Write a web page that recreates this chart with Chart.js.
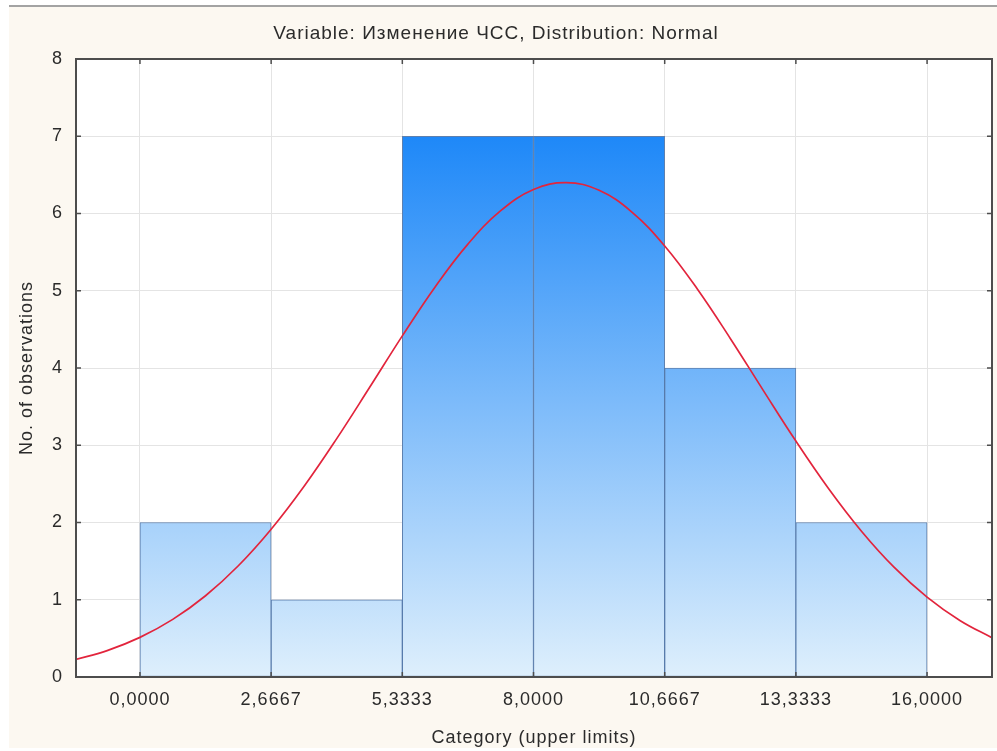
<!DOCTYPE html>
<html><head><meta charset="utf-8">
<script src="https://cdn.jsdelivr.net/npm/chart.js@4.4.1/dist/chart.umd.min.js"></script>
<style>html,body{margin:0;padding:0;background:#fff;}#wrap{width:997px;height:751px;position:relative}</style>
</head><body><div id="wrap"><canvas id="c" width="997" height="751"></canvas></div>
<script>
const titleText = 'Variable: Изменение ЧСС, Distribution: Normal';
const xAxisTitle = 'Category (upper limits)';
const yAxisTitle = 'No. of observations';
const binLower = [0, 2.6667, 5.3333, 8.0, 10.6667, 13.3333];
const binUpper = [2.6667, 5.3333, 8.0, 10.6667, 13.3333, 16.0];
const counts = [2, 1, 7, 7, 4, 2];
const xTickValues = [0, 2.6667, 5.3333, 8.0, 10.6667, 13.3333, 16.0];
const xTickLabels = ['0,0000', '2,6667', '5,3333', '8,0000', '10,6667', '13,3333', '16,0000'];
const yTickValues = [0, 1, 2, 3, 4, 5, 6, 7, 8];
const curveX = [-1.3333, -0.6667, 0, 0.6667, 1.3333, 2.0, 2.6667, 3.3333, 4.0, 4.6667, 5.3333, 6.0, 6.6667, 7.3333, 8.0, 8.6667, 9.3333, 10.0, 10.6667, 11.3333, 12.0, 12.6667, 13.3333, 14.0, 14.6667, 15.3333, 16.0, 16.6667, 17.3333];
const curveY = [0.222, 0.342, 0.513, 0.746, 1.052, 1.440, 1.913, 2.466, 3.086, 3.747, 4.416, 5.050, 5.604, 6.036, 6.310, 6.400, 6.300, 6.019, 5.580, 5.020, 4.383, 3.714, 3.054, 2.437, 1.887, 1.418, 1.034, 0.732, 0.503];
const xMin = -1.3, xMax = 17.32, yMin = 0, yMax = 8;

const FONT = '"Liberation Sans", Arial, sans-serif';
const TXT = '#2b2b2b';
const LS = '1px';

const spacing = {
  id: 'spacing',
  beforeUpdate(c) { c.ctx.letterSpacing = LS; },
  beforeLayout(c) { c.ctx.letterSpacing = LS; },
  beforeDraw(c) { c.ctx.letterSpacing = LS; }
};

const background = {
  id: 'background',
  beforeDraw(c) {
    const ctx = c.ctx, a = c.chartArea;
    ctx.save();
    ctx.fillStyle = '#ffffff';
    ctx.fillRect(0, 0, c.width, c.height);
    ctx.fillStyle = '#fcf8f1';
    ctx.fillRect(9, 7, c.width - 9, 741);
    ctx.strokeStyle = '#a3a3a3';
    ctx.lineWidth = 2;
    ctx.beginPath(); ctx.moveTo(9, 6); ctx.lineTo(c.width, 6); ctx.stroke();
    ctx.fillStyle = '#ffffff';
    ctx.fillRect(a.left, a.top, a.right - a.left, a.bottom - a.top);
    ctx.restore();
  }
};

const frame = {
  id: 'frame',
  afterDraw(c) {
    const ctx = c.ctx, a = c.chartArea, x = c.scales.x, y = c.scales.y;
    ctx.save();
    ctx.strokeStyle = '#4d4d4d';
    ctx.lineWidth = 2;
    ctx.strokeRect(a.left, a.top, a.right - a.left, a.bottom - a.top);
    ctx.lineWidth = 1.5;
    ctx.beginPath();
    xTickValues.forEach(v => {
      const px = x.getPixelForValue(v);
      ctx.moveTo(px, a.bottom); ctx.lineTo(px, a.bottom - 5);
      ctx.moveTo(px, a.top); ctx.lineTo(px, a.top + 5);
    });
    yTickValues.forEach(v => {
      const py = y.getPixelForValue(v);
      ctx.moveTo(a.left, py); ctx.lineTo(a.left + 5, py);
      ctx.moveTo(a.right, py); ctx.lineTo(a.right - 5, py);
    });
    ctx.stroke();
    ctx.restore();
  }
};

function barGradient(context) {
  const ch = context.chart;
  if (!ch.chartArea) return 'rgba(0,0,0,0)';
  const y = ch.scales.y;
  const g = ch.ctx.createLinearGradient(0, y.getPixelForValue(7), 0, y.getPixelForValue(0));
  g.addColorStop(0, 'rgb(30,136,248)');
  g.addColorStop(1, 'rgb(222,239,252)');
  return g;
}

new Chart(document.getElementById('c'), {
  type: 'bar',
  data: {
    datasets: [
      {
        type: 'line',
        order: 0,
        data: curveX.map((v, i) => ({ x: v, y: curveY[i] })),
        borderColor: 'rgb(226,36,60)',
        borderWidth: 1.7,
        pointRadius: 0,
        fill: false,
        tension: 0.4
      },
      {
        type: 'bar',
        order: 1,
        data: counts.map((v, i) => ({ x: (binLower[i] + binUpper[i]) / 2, y: v })),
        backgroundColor: barGradient,
        borderColor: 'rgba(70,110,165,0.85)',
        borderWidth: 1,
        borderSkipped: false,
        barPercentage: 1,
        categoryPercentage: 1
      }
    ]
  },
  options: {
    responsive: false,
    animation: false,
    devicePixelRatio: 1,
    layout: { padding: { left: 0, right: 5, top: 0, bottom: 0 } },
    plugins: {
      legend: { display: false },
      tooltip: { enabled: false },
      title: {
        display: true,
        text: titleText,
        color: TXT,
        font: { family: FONT, size: 19, weight: 'normal', lineHeight: 1.2 },
        padding: { top: 22, bottom: 14.2 }
      }
    },
    scales: {
      x: {
        type: 'linear',
        min: xMin, max: xMax,
        offset: false,
        grid: { color: '#e4e4e4', lineWidth: 1, drawTicks: false, offset: false },
        border: { display: false },
        afterBuildTicks(s) { s.ticks = xTickValues.map(v => ({ value: v })); },
        afterFit(s) { s.height = 74; },
        ticks: {
          color: TXT, padding: 12, maxRotation: 0, autoSkip: false,
          font: { family: FONT, size: 18, lineHeight: 1.2 },
          callback(v, i) { return xTickLabels[i]; }
        },
        title: {
          display: true, text: xAxisTitle, color: TXT,
          font: { family: FONT, size: 18, lineHeight: 1.2 },
          padding: { top: 0, bottom: 2 }
        }
      },
      y: {
        min: yMin, max: yMax,
        grid: { color: '#e4e4e4', lineWidth: 1, drawTicks: false },
        border: { display: false },
        afterBuildTicks(s) { s.ticks = yTickValues.map(v => ({ value: v })); },
        afterFit(s) { s.width = 76; },
        ticks: {
          color: TXT, padding: 13,
          font: { family: FONT, size: 18, lineHeight: 1.2 },
          callback(v) { return String(v); }
        },
        title: {
          display: true, text: yAxisTitle, color: TXT,
          font: { family: FONT, size: 18, lineHeight: 1.2 },
          padding: { top: 16, bottom: 0 }
        }
      }
    }
  },
  plugins: [spacing, background, frame]
});
</script>
</body></html>
